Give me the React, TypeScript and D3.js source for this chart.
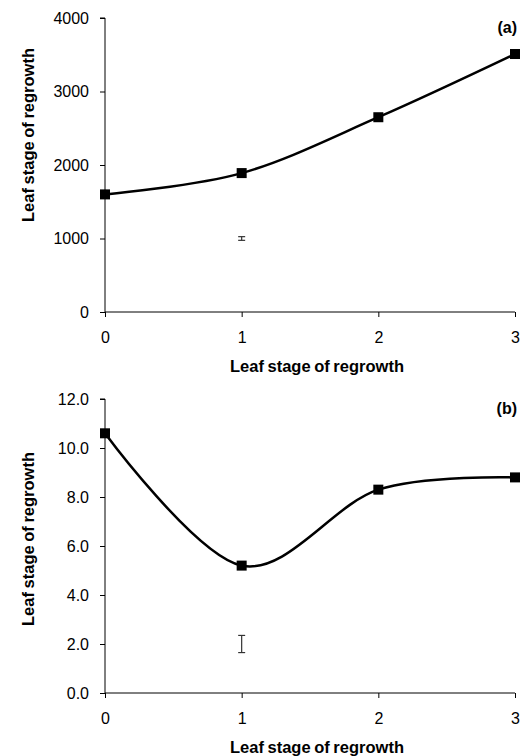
import React from "react";
import * as d3 from "d3";

const stages = [0, 1, 2, 3];
const valuesA = [1600, 1890, 2650, 3510];
const valuesB = [10.6, 5.2, 8.3, 8.8];
const ticksA = [0, 1000, 2000, 3000, 4000];
const ticksB = [0, 2, 4, 6, 8, 10, 12];
// error bar shown under stage 1: [stage, centre, half width]
const errorA = [1, 1000, 25];
const errorB = [1, 2.0, 0.35];

const W = 529;
const H = 756;
const FONT = "'Liberation Sans', Arial, sans-serif";

const panels = [
  { values: valuesA, ticks: ticksA, max: 4000, fmt: d3.format("d"), err: errorA, tag: "(a)", top: 18, bottom: 312, yTitle: 135 },
  { values: valuesB, ticks: ticksB, max: 12, fmt: d3.format(".1f"), err: errorB, tag: "(b)", top: 399, bottom: 693, yTitle: 539 },
];

const App = () => {
  const svgRef = React.useRef<SVGSVGElement>(null);

  React.useEffect(() => {
    const svgEl = d3.select(svgRef.current);
    svgEl.selectAll("*").remove();

    const x = d3.scaleLinear().domain([0, 3]).range([105, 515]);

    panels.forEach((p) => {
      const y = d3.scaleLinear().domain([0, p.max]).range([p.bottom, p.top]);
      const g = svgEl.append("g");

      // Y axis
      const yAxis = d3.axisLeft(y).tickValues(p.ticks).tickSize(5).tickPadding(11).tickFormat(p.fmt as any);
      const yg = g.append("g").attr("transform", `translate(${x(0)},0)`).call(yAxis);
      yg.select(".domain").attr("stroke", "#000").attr("d", `M-5,${p.top}H0V${p.bottom}`);
      yg.selectAll("line").attr("stroke", "#000");
      yg.selectAll("text").attr("font-family", FONT).attr("font-size", 16).attr("fill", "#000");

      // X axis
      const xAxis = d3.axisBottom(x).tickValues(stages).tickSize(5).tickPadding(15).tickFormat(d3.format("d") as any);
      const xg = g.append("g").attr("transform", `translate(0,${p.bottom})`).call(xAxis);
      xg.select(".domain").attr("stroke", "#000").attr("d", `M${x(0)},0H${x(3)}`);
      xg.selectAll("line").attr("stroke", "#000");
      xg.selectAll("text").attr("font-family", FONT).attr("font-size", 16).attr("fill", "#000");

      // axis titles
      g.append("text")
        .attr("x", 317)
        .attr("y", p.bottom + 60)
        .attr("text-anchor", "middle")
        .attr("font-family", FONT)
        .attr("font-weight", "bold")
        .attr("font-size", 16.5)
        .attr("word-spacing", -1)
        .text("Leaf stage of regrowth");
      g.append("text")
        .attr("transform", `translate(34,${p.yTitle}) rotate(-90)`)
        .attr("text-anchor", "middle")
        .attr("font-family", FONT)
        .attr("font-weight", "bold")
        .attr("font-size", 16.5)
        .attr("word-spacing", -1)
        .text("Leaf stage of regrowth");

      // panel tag
      g.append("text")
        .attr("x", 517)
        .attr("y", p.top + 15)
        .attr("text-anchor", "end")
        .attr("font-family", FONT)
        .attr("font-weight", "bold")
        .attr("font-size", 16)
        .text(p.tag);

      // smoothed line
      const line = d3
        .line<number>()
        .x((_, i) => x(stages[i]))
        .y((d) => y(d))
        .curve(d3.curveCardinal.tension(0));
      g.append("path")
        .attr("d", line(p.values))
        .attr("fill", "none")
        .attr("stroke", "#000")
        .attr("stroke-width", 2.5);

      // markers
      g.selectAll(".pt")
        .data(p.values)
        .enter()
        .append("rect")
        .attr("x", (_, i) => x(stages[i]) - 5)
        .attr("y", (d) => y(d) - 5)
        .attr("width", 10)
        .attr("height", 10)
        .attr("fill", "#000");

      // error bar
      const [ex, ec, eh] = p.err;
      const eg = g.append("g").attr("stroke", "#333").attr("stroke-width", 1.2);
      eg.append("line").attr("x1", x(ex)).attr("x2", x(ex)).attr("y1", y(ec - eh)).attr("y2", y(ec + eh));
      [ec - eh, ec + eh].forEach((v) => {
        eg.append("line").attr("x1", x(ex) - 3.5).attr("x2", x(ex) + 3.5).attr("y1", y(v)).attr("y2", y(v));
      });
    });
  }, []);

  return (
    <svg
      ref={svgRef}
      width={W}
      height={H}
      style={{ position: "absolute", left: 0, top: 0, background: "#fff" }}
    />
  );
};

export default App;
